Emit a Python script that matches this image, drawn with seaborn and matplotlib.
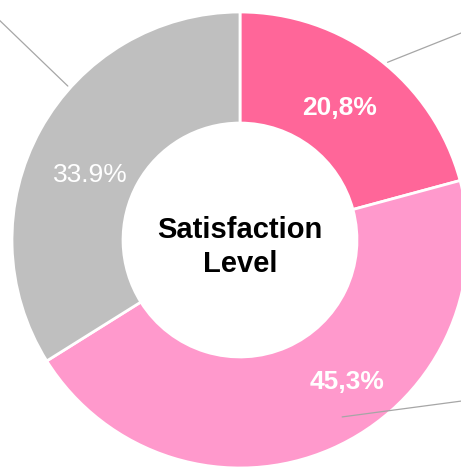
import numpy as np
import matplotlib
matplotlib.use("Agg")
import matplotlib.pyplot as plt
import seaborn as sns

# ---- data ----
categories = ["Satisfied", "Neutral", "Dissatisfied"]
shares = [20.8, 45.3, 33.9]
label_texts = ["20,8%", "45,3%", "33.9%"]
label_bold = [True, True, False]
colors = ["#FF6699", "#FF99CC", "#BFBFBF"]
center_title = "Satisfaction\nLevel"

# label placement (polar: radius as fraction of outer radius, angle in deg)
label_polar = [(0.734, 53.7), (0.77, -52.5), (0.72, 155.9)]
# leader lines (polar start -> polar end)
leader_lines = [((1.013, 50.3), (1.46, 41.1)),
                ((1.013, 138.2), (1.63, 137.4)),
                ((0.896, -60.0), (1.30, -32.0))]

sns.set_theme(style="white")
plt.rcParams["font.family"] = ["Liberation Sans", "DejaVu Sans"]

W, H = 461, 467
fig = plt.figure(figsize=(W / 100, H / 100), dpi=100)
cx, cy, R = 240, 240, 228
ax = fig.add_axes([(cx - R) / W, (H - cy - R) / H, 2 * R / W, 2 * R / H])

wedges, _ = ax.pie(shares, colors=colors, startangle=90, counterclock=False,
                   radius=1.0,
                   wedgeprops=dict(width=0.487, edgecolor="white", linewidth=2))
ax.set_xlim(-1, 1)
ax.set_ylim(-1, 1)
ax.set_aspect("auto")
ax.axis("off")

for (r0, a0), (r1, a1) in leader_lines:
    t0, t1 = np.deg2rad(a0), np.deg2rad(a1)
    ax.plot([r0 * np.cos(t0), r1 * np.cos(t1)], [r0 * np.sin(t0), r1 * np.sin(t1)],
            color="#A6A6A6", lw=0.9, clip_on=False, zorder=5)

for txt, bold, (r, a) in zip(label_texts, label_bold, label_polar):
    t = np.deg2rad(a)
    ax.text(r * np.cos(t), r * np.sin(t), txt, ha="center", va="center_baseline",
            color="white", fontsize=19, fontweight="bold" if bold else "normal",
            zorder=6)

ax.text(0, -0.03, center_title, ha="center", va="center", fontsize=21,
        fontweight="bold", color="black", linespacing=1.3)

fig.savefig("out.png", dpi=100)
